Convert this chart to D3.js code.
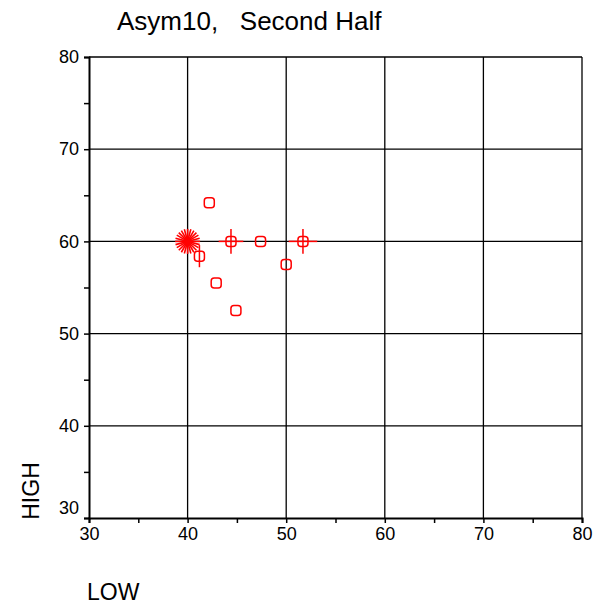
<!DOCTYPE html>
<html>
<head>
<meta charset="utf-8">
<script src="https://cdn.jsdelivr.net/npm/d3@7"></script>
<style>
	body { margin: 0; background: #fff; }
	text { font-family: 'Liberation Sans', Arial, sans-serif; fill: #000; }
</style>
</head>
<body>
<svg id="chart" width="603" height="610"></svg>
<script>
// values
const lowVals = [42.2, 41.2, 44.4, 47.4, 50.0, 51.7, 42.9, 44.9];
const highVals = [64.2, 58.4, 60.0, 60.0, 57.5, 60.0, 55.5, 52.5];
const lowErr = [0, 0, 1.25, 0, 0, 1.45, 0, 0];
const highErr = [0, 1.2, 1.35, 0, 0, 1.35, 0, 0];
const starPoint = [40, 60];
const majorTicks = [30, 40, 50, 60, 70, 80];
const minorTicks = [35, 45, 55, 65, 75];

const $svg = d3.select('#chart');
const RED = '#ff0000';
const FONT = "'Liberation Sans', Arial, sans-serif";

const x = d3.scaleLinear().domain([30, 80]).range([89, 582]);
const y = d3.scaleLinear().domain([30, 80]).range([518, 57]);

// grid
const $grid = $svg.append('g');
$grid.selectAll('.vx')
	.data(majorTicks.slice(1))
	.enter()
	.append('line')
	.attr('x1', d => x(d)).attr('x2', d => x(d))
	.attr('y1', y(30)).attr('y2', y(80))
	.attr('stroke', '#000').attr('stroke-width', 1.3);
$grid.selectAll('.hy')
	.data(majorTicks.slice(1))
	.enter()
	.append('line')
	.attr('y1', d => y(d)).attr('y2', d => y(d))
	.attr('x1', x(30)).attr('x2', x(80))
	.attr('stroke', '#000').attr('stroke-width', 1.3);

// axes
const xAxis = d3.axisBottom(x).tickValues(majorTicks).tickSize(5).tickPadding(4);
const yAxis = d3.axisLeft(y).tickValues(majorTicks).tickSize(5).tickPadding(5);

const $xa = $svg.append('g').attr('transform', `translate(0,${y(30)})`).call(xAxis);
const $ya = $svg.append('g').attr('transform', `translate(${x(30)},0)`).call(yAxis);

[$xa, $ya].forEach($a => {
	$a.attr('font-size', 18).attr('font-family', FONT);
	$a.select('.domain').attr('stroke-width', 2);
	$a.selectAll('.tick line').attr('stroke-width', 1.5);
});
$ya.selectAll('.tick text').filter(d => d === 30).attr('dy', '-0.25em');

$svg.append('g')
	.attr('transform', `translate(0,${y(30)})`)
	.call(d3.axisBottom(x).tickValues(minorTicks).tickSize(5).tickFormat(''))
	.call(g => g.select('.domain').remove())
	.selectAll('line').attr('stroke-width', 1.5);
$svg.append('g')
	.attr('transform', `translate(${x(30)},0)`)
	.call(d3.axisLeft(y).tickValues(minorTicks).tickSize(5).tickFormat(''))
	.call(g => g.select('.domain').remove())
	.selectAll('line').attr('stroke-width', 1.5);

// error bars
const pts = lowVals.map((d, i) => ({ lo: d, hi: highVals[i], ex: lowErr[i], ey: highErr[i] }));
const $marks = $svg.append('g');
$marks.selectAll('.ex')
	.data(pts.filter(d => d.ex > 0))
	.enter()
	.append('line')
	.attr('x1', d => x(d.lo - d.ex)).attr('x2', d => x(d.lo + d.ex))
	.attr('y1', d => y(d.hi)).attr('y2', d => y(d.hi))
	.attr('stroke', RED).attr('stroke-width', 1.5);
$marks.selectAll('.ey')
	.data(pts.filter(d => d.ey > 0))
	.enter()
	.append('line')
	.attr('x1', d => x(d.lo)).attr('x2', d => x(d.lo))
	.attr('y1', d => y(d.hi - d.ey)).attr('y2', d => y(d.hi + d.ey))
	.attr('stroke', RED).attr('stroke-width', 1.5);

// squares
$marks.selectAll('.pt')
	.data(pts)
	.enter()
	.append('rect')
	.attr('x', d => x(d.lo) - 5).attr('y', d => y(d.hi) - 5)
	.attr('width', 10).attr('height', 10)
	.attr('rx', 3).attr('ry', 3)
	.attr('fill', 'none').attr('stroke', RED).attr('stroke-width', 1.5);

// star
const spokes = d3.range(0, 180, 15);
$marks.append('g')
	.attr('transform', `translate(${x(starPoint[0])},${y(starPoint[1])})`)
	.selectAll('line')
	.data(spokes)
	.enter()
	.append('line')
	.attr('x1', d => -12.5 * Math.cos(d * Math.PI / 180))
	.attr('y1', d => -12.5 * Math.sin(d * Math.PI / 180))
	.attr('x2', d => 12.5 * Math.cos(d * Math.PI / 180))
	.attr('y2', d => 12.5 * Math.sin(d * Math.PI / 180))
	.attr('stroke', RED).attr('stroke-width', 1.6);

// labels
$svg.append('text').attr('x', 117).attr('y', 30).style('font-size', '26px').style('white-space', 'pre').text('Asym10,   Second Half');
$svg.append('text').attr('transform', 'translate(39,491) rotate(-90)').attr('text-anchor', 'middle').style('font-size', '23px').text('HIGH');
$svg.append('text').attr('x', 87).attr('y', 600).style('font-size', '23px').text('LOW');
</script>
</body>
</html>
